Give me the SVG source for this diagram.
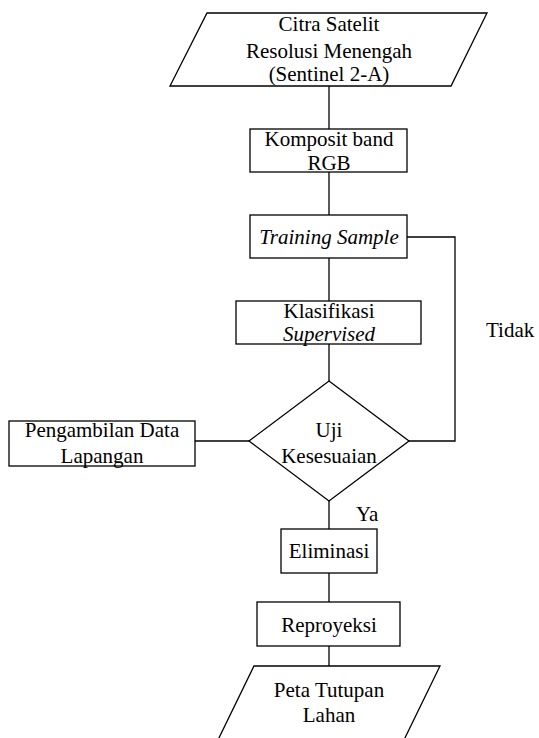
<svg xmlns="http://www.w3.org/2000/svg" width="539" height="738" viewBox="0 0 539 738">
<style>
.s{fill:#fff;stroke:#000;stroke-width:1.3}
.c{fill:none;stroke:#000;stroke-width:1.3}
text{font-family:"Liberation Serif","Times New Roman",serif;font-size:21px;fill:#000}
.m{text-anchor:middle}
.i{font-style:italic}
</style>
<rect width="539" height="738" fill="#fff"/>
<g id="connectors">
<line class="c" x1="329" y1="86" x2="329" y2="129"/>
<line class="c" x1="329" y1="172" x2="329" y2="215"/>
<line class="c" x1="329" y1="258" x2="329" y2="301"/>
<line class="c" x1="329" y1="344" x2="329" y2="381"/>
<polyline class="c" points="407,237 455,237 455,441 409,441"/>
<line class="c" x1="195" y1="441" x2="249" y2="441"/>
<line class="c" x1="329" y1="501" x2="329" y2="529"/>
<line class="c" x1="329" y1="573" x2="329" y2="602"/>
<line class="c" x1="329" y1="646" x2="329" y2="666"/>
<text x="486" y="337">Tidak</text>
<text x="356" y="521">Ya</text>
</g>
<g id="citra">
<polygon class="s" points="207,13 487,13 451,86 170,86"/>
<text class="m" x="329" y="31">Citra Satelit</text>
<text class="m" x="329" y="58">Resolusi Menengah</text>
<text class="m" x="329" y="81">(Sentinel 2-A)</text>
</g>
<g id="komposit">
<rect class="s" x="250" y="129" width="157" height="43"/>
<text class="m" x="329" y="146">Komposit band</text>
<text class="m" x="329" y="170">RGB</text>
</g>
<g id="training">
<rect class="s" x="250" y="215" width="157" height="43"/>
<text class="m i" x="329" y="244">Training Sample</text>
</g>
<g id="klasifikasi">
<rect class="s" x="236" y="301" width="185" height="43"/>
<text class="m" x="329" y="318">Klasifikasi</text>
<text class="m i" x="329" y="341">Supervised</text>
</g>
<g id="uji">
<polygon class="s" points="329,381 409,441 329,501 249,441"/>
<text class="m" x="329" y="437">Uji</text>
<text class="m" x="329" y="463">Kesesuaian</text>
</g>
<g id="pengambilan">
<rect class="s" x="9" y="421" width="186" height="45"/>
<text class="m" x="102" y="437">Pengambilan Data</text>
<text class="m" x="102" y="463">Lapangan</text>
</g>
<g id="eliminasi">
<rect class="s" x="281" y="529" width="96" height="44"/>
<text class="m" x="329" y="558">Eliminasi</text>
</g>
<g id="reproyeksi">
<rect class="s" x="257" y="602" width="143" height="44"/>
<text class="m" x="329" y="632">Reproyeksi</text>
</g>
<g id="peta">
<polygon class="s" points="254,666 440,666 402,744 216,744"/>
<text class="m" x="329" y="697">Peta Tutupan</text>
<text class="m" x="329" y="722">Lahan</text>
</g>
</svg>
